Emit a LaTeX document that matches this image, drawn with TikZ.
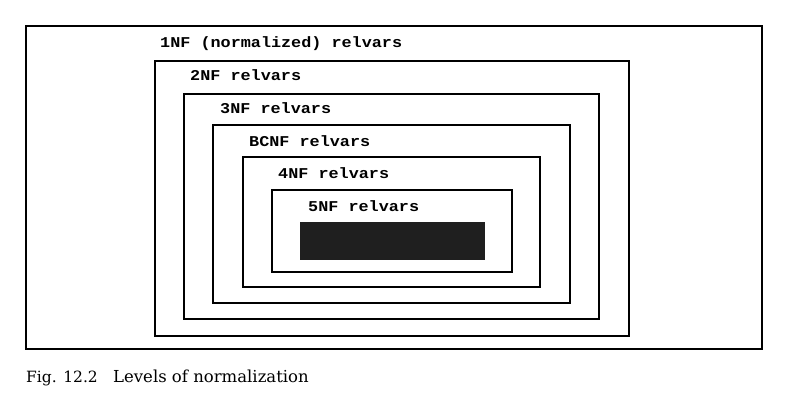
\documentclass[tikz,border=0pt]{standalone}
\usepackage{fontspec}
\setmainfont{DejaVu Serif}
\newfontfamily\lblfont[FakeStretch=1.12]{Liberation Mono}
\begin{document}
\begin{tikzpicture}[x=1pt,y=-1pt,
  boxline/.style={draw=black,line width=1.8pt},
  lbl/.style={anchor=base west,inner sep=0pt,font=\lblfont\bfseries\fontsize{15}{18}\selectfont},
  captext/.style={anchor=base west,inner sep=0pt,font=\fontsize{16.5}{20}\selectfont}]
\useasboundingbox (0,0) rectangle (800,403);
\draw[boxline] (26,26) rectangle (762,349);
\draw[boxline] (155,61) rectangle (629,336);
\draw[boxline] (184,94) rectangle (599,319);
\draw[boxline] (213,125) rectangle (570,303);
\draw[boxline] (243,157) rectangle (540,287);
\draw[boxline] (272,190) rectangle (512,272);
\fill[black!88] (300,222) rectangle (485,260);
\node[lbl] (l1) at (160,48) {1NF (normalized) relvars};
\node[lbl] (l2) at (190,81) {2NF relvars};
\node[lbl] (l3) at (220,114) {3NF relvars};
\node[lbl] (l4) at (249,147) {BCNF relvars};
\node[lbl] (l5) at (278,179) {4NF relvars};
\node[lbl] (l6) at (308,212) {5NF relvars};
\node[captext,font=\fontsize{15.5}{20}\selectfont] (c1) at (26,382) {Fig. 12.2};
\node[captext] (c2) at (113,382) {Levels of normalization};
\end{tikzpicture}
\end{document}
